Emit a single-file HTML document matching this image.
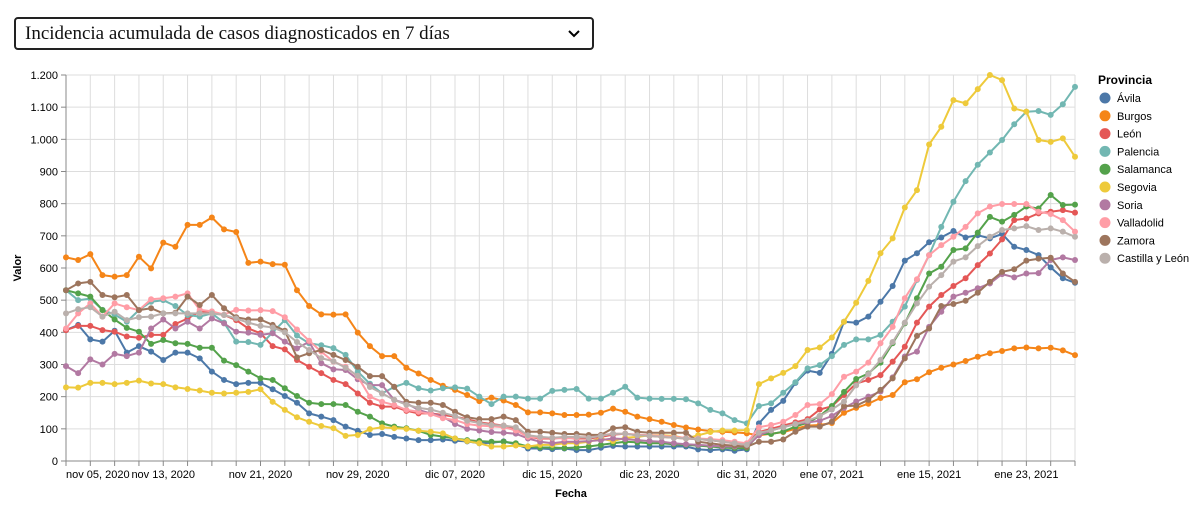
<!DOCTYPE html>
<html><head><meta charset="utf-8"><style>
html,body{margin:0;padding:0;background:#fff;width:1200px;height:516px;overflow:hidden}
#sel{position:absolute;left:14px;top:17px;width:567px;height:29px;border:2px solid #222;border-radius:4px;font-family:"Liberation Serif",serif;font-size:19px;line-height:29px;padding-left:9px;box-sizing:content-box;color:#111;white-space:nowrap}
svg{position:absolute;left:0;top:0}
text{font-family:"Liberation Sans",sans-serif}
</style></head><body>
<div id="sel">Incidencia acumulada de casos diagnosticados en 7 días<svg width="12" height="8" style="position:absolute;left:552px;top:11px"><path d="M1 1 L6 6 L11 1" fill="none" stroke="#000" stroke-width="2"/></svg></div>
<svg id="chart" width="1200" height="516" style="top:0;pointer-events:none"></svg>
<script>
const startDate = "2020-11-05";
const provinces = ["Ávila","Burgos","León","Palencia","Salamanca","Segovia","Soria","Valladolid","Zamora","Castilla y León"];
const yTicks = [0,100,200,300,400,500,600,700,800,900,1000,1100,1200];
const xTickLabels = ["nov 05, 2020","nov 13, 2020","nov 21, 2020","nov 29, 2020","dic 07, 2020","dic 15, 2020","dic 23, 2020","dic 31, 2020","ene 07, 2021","ene 15, 2021","ene 23, 2021"];
const xTickDates = ["2020-11-05","2020-11-13","2020-11-21","2020-11-29","2020-12-07","2020-12-15","2020-12-23","2020-12-31","2021-01-07","2021-01-15","2021-01-23"];
const avila = [407,423,378,371,405,337,357,340,314,337,337,319,278,252,239,243,243,223,202,181,148,138,127,107,94,81,84,75,70,65,65,67,63,61,55,57,61,52,39,39,37,39,34,34,41,47,45,45,45,45,45,45,36,34,36,32,36,117,159,187,243,281,274,333,433,430,449,495,544,623,646,680,695,715,695,702,692,706,666,656,640,602,568,554];
const burgos = [633,625,643,578,573,578,635,599,679,666,734,734,757,720,712,616,620,612,610,531,482,456,455,456,399,357,326,326,290,272,252,234,221,205,186,197,188,174,151,151,148,143,143,144,150,163,153,138,130,122,112,104,98,93,91,89,86,80,85,90,100,110,112,118,150,165,178,196,205,245,254,276,290,300,311,324,335,342,350,353,350,352,344,329];
const leon = [407,420,420,407,402,387,383,392,392,426,443,464,462,454,438,412,397,357,347,314,293,273,252,239,210,181,169,169,156,148,148,143,138,130,120,115,110,100,75,70,70,72,70,70,75,82,85,80,78,75,72,70,68,65,60,55,50,90,100,110,120,130,160,170,205,241,252,267,309,355,430,480,516,544,568,609,645,689,749,754,770,775,780,772];
const palencia = [531,500,505,470,455,433,469,495,500,482,454,449,459,430,371,370,361,400,438,390,366,360,351,330,278,240,210,230,243,226,219,226,229,225,200,177,200,200,194,194,218,221,224,194,194,212,231,197,194,193,193,192,179,159,148,127,117,171,179,212,245,288,298,326,361,378,378,392,433,480,563,640,728,806,870,921,959,998,1047,1086,1088,1076,1109,1163];
const salamanca = [531,521,511,469,440,414,402,364,376,366,364,352,352,312,298,278,257,252,226,202,181,177,177,174,153,138,117,107,102,94,81,76,70,65,62,60,60,55,45,42,42,40,42,45,50,55,60,58,55,55,52,50,48,45,42,40,40,84,84,91,107,119,140,171,215,255,272,306,366,428,506,583,604,656,661,710,759,744,765,791,785,827,796,797];
const segovia = [229,228,243,243,239,243,250,241,239,229,224,219,212,210,212,215,223,184,159,136,122,109,102,78,81,99,105,102,100,94,91,86,70,62,55,45,45,48,45,50,50,55,55,60,70,62,72,75,80,80,78,70,80,90,95,95,96,239,257,274,295,345,353,384,433,492,560,646,692,788,842,984,1039,1122,1112,1156,1200,1184,1096,1086,998,992,1003,946];
const soria = [295,273,316,300,333,326,337,412,440,412,433,412,443,428,402,399,392,397,371,350,371,304,285,283,254,236,236,190,179,159,148,138,115,100,95,90,88,85,70,60,55,60,60,62,65,70,68,65,62,60,55,52,50,48,45,45,45,80,95,105,115,120,125,140,165,185,200,216,260,325,340,417,464,511,523,537,552,581,571,583,584,625,633,625];
const valladolid = [412,459,490,449,490,478,469,503,506,511,521,470,465,455,470,468,469,466,447,409,374,340,309,293,262,200,184,174,159,153,146,133,127,115,110,108,105,95,75,72,72,70,72,75,80,85,85,82,80,78,75,72,70,68,65,60,55,105,112,122,143,174,177,208,262,278,306,366,417,506,565,640,671,697,728,770,791,799,799,799,775,768,749,713];
const zamora = [531,552,557,516,509,516,469,475,459,461,511,485,516,475,447,440,440,423,405,322,335,345,330,314,293,264,264,231,184,181,181,174,153,136,130,130,138,127,91,91,88,84,84,81,81,102,105,91,88,88,88,88,60,55,50,48,44,60,60,67,91,107,107,122,171,172,190,221,257,319,389,412,482,488,498,523,557,588,596,623,629,632,583,557];
const cyl = [459,472,478,449,464,438,447,449,459,459,459,459,459,454,443,430,420,415,400,370,345,320,310,290,265,230,210,190,175,165,160,150,140,125,118,112,110,105,80,75,72,75,75,72,78,85,85,80,78,75,72,70,68,65,60,55,50,88,95,105,115,125,140,160,185,235,270,314,370,430,490,542,578,620,633,668,697,718,723,730,718,723,713,697];
const seriesValues = [avila,burgos,leon,palencia,salamanca,segovia,soria,valladolid,zamora,cyl];
const colors = ["#4c78a8","#f58518","#e45756","#72b7b2","#54a24b","#eeca3b","#b279a2","#ff9da6","#9d755d","#bab0ac"];

const NS = "http://www.w3.org/2000/svg";
const svg = document.getElementById('chart');
const X0 = 66, X1 = 1075, Y0 = 461, Y1 = 75;
const DAY = 86400000;
const t0 = Date.parse(startDate + "T00:00:00Z");
const nDays = avila.length - 1;
function xScale(ms){ return X0 + (ms - t0) / DAY / nDays * (X1 - X0); }
function xIdx(i){ return xScale(t0 + i * DAY); }
function yScale(v){ return Y0 - v / 1200 * (Y0 - Y1); }
function el(tag, attrs, parent){ const e = document.createElementNS(NS, tag); for (const k in attrs) e.setAttribute(k, attrs[k]); (parent||svg).appendChild(e); return e; }

const grid = el('g', {});


yTicks.forEach(v => { el('line', {x1:X0, x2:X1, y1:yScale(v), y2:yScale(v), stroke:'#ddd', 'stroke-width':1}, grid); });
const gridDates = [];
for (let i = 0; i <= nDays; i++) { const d = new Date(t0 + i*DAY); if (d.getUTCDate() % 2 === 1) gridDates.push(t0 + i*DAY); }
gridDates.forEach(ms => { const x = xScale(ms); el('line', {x1:x, x2:x, y1:Y1, y2:Y0, stroke:'#ddd', 'stroke-width':1}, grid); });

const yAxis = el('g', {});


el('line', {x1:X0, x2:X0, y1:Y1, y2:Y0, stroke:'#888'}, yAxis);
yTicks.forEach(v => {
  const y = yScale(v);
  el('line', {x1:X0-5, x2:X0, y1:y, y2:y, stroke:'#888'}, yAxis);
  const t = el('text', {x:X0-8, y:y+4, 'text-anchor':'end', 'font-size':11, fill:'#000'}, yAxis);
  
  
  t.textContent = v.toLocaleString('de-DE');
});
const xAxis = el('g', {});


el('line', {x1:X0, x2:X1, y1:Y0, y2:Y0, stroke:'#888'}, xAxis);
gridDates.forEach(ms => { const x = xScale(ms); el('line', {x1:x, x2:x, y1:Y0, y2:Y0+5, stroke:'#888'}, xAxis); });
xTickDates.forEach((ds, k) => {
  const x = xScale(Date.parse(ds + "T00:00:00Z"));
  const t = el('text', {x:x, y:Y0+17, 'text-anchor': k===0 ? 'start' : 'middle', 'font-size':11, fill:'#000'}, xAxis);
  
  
  t.textContent = xTickLabels[k];
});
const xt = el('text', {x:571, y:497, 'text-anchor':'middle', 'font-size':11, 'font-weight':'bold'});


xt.textContent = 'Fecha';
const yt = el('text', {x:0, y:0, 'text-anchor':'middle', 'font-size':11, 'font-weight':'bold', transform:'translate(21,268) rotate(-90)'});


yt.textContent = 'Valor';

seriesValues.forEach((vals, s) => {
  const g = el('g', {});
  
  
  const pts = vals.map((v, i) => xIdx(i).toFixed(1) + ',' + yScale(v).toFixed(1)).join(' ');
  const pl = el('polyline', {points:pts, fill:'none', stroke:colors[s], 'stroke-width':2, 'stroke-linejoin':'round'}, g);
  
  
  vals.forEach((v, i) => {
    const c = el('circle', {cx:xIdx(i), cy:yScale(v), r:3, fill:colors[s]}, g);
    
    
  });
});

const lg = el('g', {});


const lt = el('text', {x:1098, y:84, 'font-size':12, 'font-weight':'bold', fill:'#000'}, lg);


lt.textContent = 'Provincia';
provinces.forEach((p, k) => {
  const cy = 98 + k * 17.8;
  const e = el('g', {}, lg);
  
  
  el('circle', {cx:1105, cy:cy, r:5.5, fill:colors[k]}, e);
  const t = el('text', {x:1117, y:cy+4, 'font-size':11, fill:'#000'}, e);
  t.textContent = p;
});
</script>
</body></html>
